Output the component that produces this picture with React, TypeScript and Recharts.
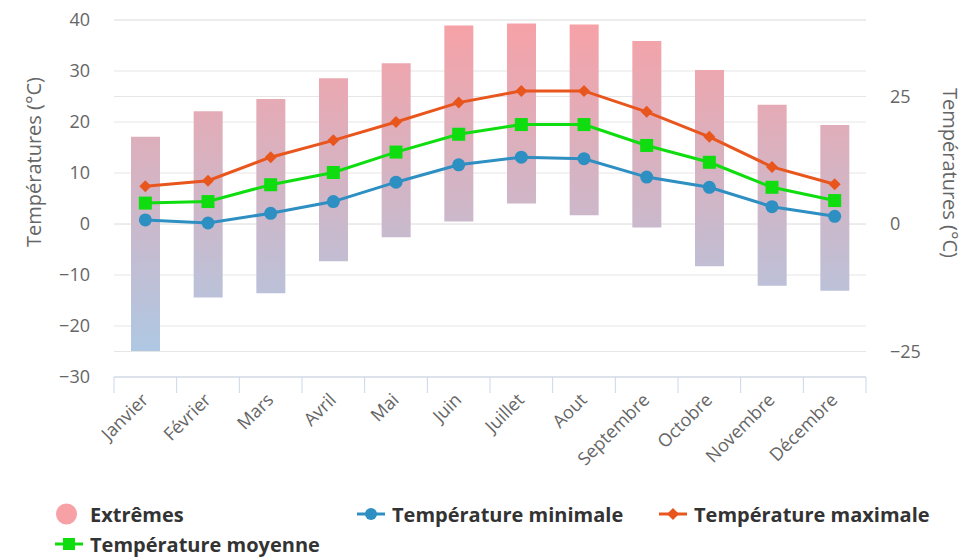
import React from 'react';
import { ComposedChart, Bar, Line, XAxis, YAxis, CartesianGrid, Legend } from 'recharts';

const months = ['Janvier', 'Février', 'Mars', 'Avril', 'Mai', 'Juin', 'Juillet', 'Aout', 'Septembre', 'Octobre', 'Novembre', 'Décembre'];
const extremeLow = [-24.9, -14.4, -13.6, -7.3, -2.6, 0.5, 4.0, 1.7, -0.7, -8.3, -12.1, -13.1];
const extremeHigh = [17.1, 22.1, 24.5, 28.6, 31.5, 38.9, 39.3, 39.1, 35.9, 30.2, 23.4, 19.4];
const tempMin = [0.8, 0.2, 2.1, 4.4, 8.2, 11.6, 13.1, 12.8, 9.2, 7.2, 3.4, 1.5];
const tempMax = [7.4, 8.5, 13.1, 16.4, 20.0, 23.8, 26.1, 26.1, 22.0, 17.1, 11.2, 7.8];
const tempMoy = [4.1, 4.4, 7.7, 10.1, 14.1, 17.6, 19.5, 19.5, 15.4, 12.1, 7.2, 4.6];
const leftTicks = [-30, -20, -10, 0, 10, 20, 30, 40];
const rightTicks = [-25, 0, 25];
const legendOrder = ['ext', 'min', 'max', 'moy'];

const data = months.map((m, i) => ({
  month: m,
  ext: [extremeLow[i], extremeHigh[i]],
  min: tempMin[i],
  max: tempMax[i],
  moy: tempMoy[i],
}));

const W = 966;
const H = 560;
const PLOT_LEFT = 114;
const PLOT_RIGHT = 866;
const PLOT_TOP = 20;
const PLOT_BOTTOM = 377;
const BW = (PLOT_RIGHT - PLOT_LEFT) / months.length;

const C_MIN = '#2e8fc2';
const C_MAX = '#e8561e';
const C_MOY = '#10dd10';
const C_EXT = '#f7a1a6';
const AXIS_C = '#ccd6eb';
const FONT = "'Open Sans', sans-serif";

const fmt = (v: number) => (v < 0 ? '\u2212' + Math.abs(v) : String(v));

const XTick = (props: any) => {
  const { x, y, payload, index } = props;
  const px = x + 4;
  const py = y + 24;
  return (
    <g>
      <line x1={x - BW / 2} x2={x - BW / 2} y1={y} y2={y + 16} stroke={AXIS_C} strokeWidth={1} />
      {index === months.length - 1 && (
        <line x1={x + BW / 2} x2={x + BW / 2} y1={y} y2={y + 16} stroke={AXIS_C} strokeWidth={1} />
      )}
      <text x={px} y={py} textAnchor="end" fill="#666666" fontSize={18} transform={`rotate(-45 ${px} ${py})`}>
        {payload.value}
      </text>
    </g>
  );
};

const CircleDot = (props: any) => {
  const { cx, cy } = props;
  if (cx == null || cy == null) return null;
  return <circle cx={cx} cy={cy} r={6.5} fill={C_MIN} />;
};
const SquareDot = (props: any) => {
  const { cx, cy } = props;
  if (cx == null || cy == null) return null;
  return <rect x={cx - 6.5} y={cy - 6.5} width={13} height={13} fill={C_MOY} />;
};
const DiamondDot = (props: any) => {
  const { cx, cy } = props;
  if (cx == null || cy == null) return null;
  const r = 6;
  return <polygon points={`${cx},${cy - r} ${cx + r},${cy} ${cx},${cy + r} ${cx - r},${cy}`} fill={C_MAX} />;
};

const LegendSymbol = ({ kind, color }: { kind: string; color: string }) => (
  <svg width={30} height={22} style={{ display: 'block' }}>
    {kind === 'ext' ? (
      <circle cx={11.5} cy={11} r={10.5} fill={color} />
    ) : (
      <g>
        <line x1={0} x2={28} y1={11} y2={11} stroke={color} strokeWidth={3} />
        {kind === 'min' && <circle cx={14} cy={11} r={6} fill={color} />}
        {kind === 'moy' && <rect x={8} y={5} width={12} height={12} fill={color} />}
        {kind === 'max' && <polygon points="14,5 20,11 14,17 8,11" fill={color} />}
      </g>
    )}
  </svg>
);

const CustomLegend = (props: any) => {
  const payload = [...(props.payload || [])].sort(
    (a: any, b: any) => legendOrder.indexOf(a.dataKey) - legendOrder.indexOf(b.dataKey)
  );
  return (
    <div style={{ display: 'flex', flexWrap: 'wrap', paddingLeft: 55, width: 3 * 303 }}>
      {payload.map((p: any) => (
        <div key={p.dataKey} style={{ width: 302, height: 30, display: 'flex', alignItems: 'center' }}>
          <LegendSymbol kind={p.dataKey} color={p.color} />
          <span style={{ marginLeft: 5, fontWeight: 700, fontSize: 20, color: '#333333', fontFamily: FONT }}>{p.value}</span>
        </div>
      ))}
    </div>
  );
};

const LeftTitle = () => (
  <text x={33} y={162} transform="rotate(-90 33 162)" textAnchor="middle" dominantBaseline="central" fill="#666666" fontSize={20}>
    Températures (°C)
  </text>
);
const RightTitle = () => (
  <text x={950} y={173} transform="rotate(90 950 173)" textAnchor="middle" dominantBaseline="central" fill="#666666" fontSize={20}>
    Températures (°C)
  </text>
);

export default function App() {
  return (
    <div style={{ position: 'absolute', left: 0, top: 0, width: W, height: H, fontFamily: FONT, background: '#fff' }}>
      <ComposedChart width={W} height={H} data={data} margin={{ top: PLOT_TOP, right: 0, bottom: H - PLOT_BOTTOM - 60, left: 0 }}>
        <defs>
          <linearGradient id="extGrad" gradientUnits="userSpaceOnUse" x1={0} y1={PLOT_TOP} x2={0} y2={PLOT_BOTTOM}>
            <stop offset="0%" stopColor="#f7a1a6" />
            <stop offset="100%" stopColor="#a9cbe8" />
          </linearGradient>
        </defs>
        <CartesianGrid yAxisId="left" vertical={false} stroke="#e6e6e6" />
        <CartesianGrid yAxisId="right" vertical={false} stroke="#e6e6e6" />
        <XAxis
          dataKey="month"
          height={60}
          interval={0}
          tickLine={false}
          tickSize={0}
          tickMargin={0}
          axisLine={{ stroke: AXIS_C }}
          tick={<XTick />}
        />
        <YAxis
          yAxisId="left"
          orientation="left"
          width={PLOT_LEFT}
          domain={[-30, 40]}
          ticks={leftTicks}
          tickFormatter={fmt}
          axisLine={false}
          tickLine={false}
          tickMargin={18}
          tick={{ fill: '#666666', fontSize: 18 }}
          label={{ content: () => <LeftTitle /> }}
        />
        <YAxis
          yAxisId="right"
          orientation="right"
          width={W - PLOT_RIGHT}
          domain={[-30, 40]}
          ticks={rightTicks}
          tickFormatter={fmt}
          axisLine={false}
          tickLine={false}
          tickMargin={18}
          tick={{ fill: '#666666', fontSize: 18 }}
          label={{ content: () => <RightTitle /> }}
        />
        <Legend
          layout="horizontal"
          verticalAlign="middle"
          align="center"
          content={<CustomLegend />}
          wrapperStyle={{ left: 0, top: 499, width: W }}
        />
        <Bar yAxisId="right" dataKey="ext" name="Extrêmes" fill="url(#extGrad)" color={C_EXT} barSize={29} isAnimationActive={false} legendType="circle" />
        <Line yAxisId="left" dataKey="min" name="Température minimale" stroke={C_MIN} strokeWidth={3} dot={<CircleDot />} activeDot={false} isAnimationActive={false} />
        <Line yAxisId="left" dataKey="max" name="Température maximale" stroke={C_MAX} strokeWidth={3} dot={<DiamondDot />} activeDot={false} isAnimationActive={false} />
        <Line yAxisId="left" dataKey="moy" name="Température moyenne" stroke={C_MOY} strokeWidth={3} dot={<SquareDot />} activeDot={false} isAnimationActive={false} />
      </ComposedChart>
    </div>
  );
}
